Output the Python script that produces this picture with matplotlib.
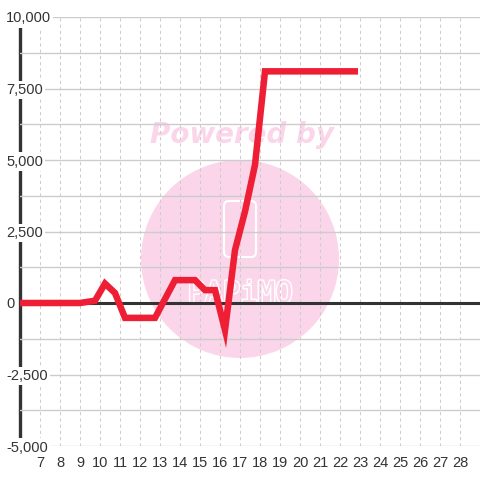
import matplotlib
matplotlib.use("Agg")
import matplotlib.pyplot as plt
from matplotlib.patches import Circle, FancyBboxPatch
import matplotlib.patheffects as pe

# data
x_vals = [6.0, 9.0, 9.75, 10.25, 10.75, 11.25, 12.75, 13.75, 14.75, 15.25, 15.75,
          16.25, 16.75, 17.25, 17.75, 18.25, 22.9]
y_vals = [0, 0, 80, 680, 350, -520, -520, 800, 800, 450, 450,
          -950, 1850, 3200, 4830, 8100, 8100]
x_ticks = list(range(7, 29))
y_ticks = [-5000, -2500, 0, 2500, 5000, 7500, 10000]
y_tick_labels = ["-5,000", "-2,500", "0", "2,500", "5,000", "7,500", "10,000"]
y_minor = [-3750, -1250, 1250, 3750, 6250, 8750]

plt.rcParams['font.family'] = ['Liberation Sans', 'DejaVu Sans']

fig = plt.figure(figsize=(4.8, 4.8), dpi=100)
fig.patch.set_facecolor('white')
ax = fig.add_axes([20/480, 1-446/480, 460/480, (446-17)/480])
ax.set_facecolor('white')
ax.set_xlim(6, 29)
ax.set_ylim(-5000, 10000)
ax.set_axisbelow(True)

for s in ax.spines.values():
    s.set_visible(False)

# watermark
pink = '#fbd6ea'
ax.add_patch(Circle((2.40, 4.8-2.59), 0.99, transform=fig.dpi_scale_trans,
                    facecolor=pink, edgecolor='none', zorder=0.1, clip_on=False))
ax.text(242/480, 1-135/480, "Powered by", color=pink, fontsize=20,
        fontweight='bold', fontstyle='oblique', family='DejaVu Sans',
        ha='center', va='center', zorder=0.1, transform=fig.transFigure)
ax.add_patch(FancyBboxPatch((2.24, 4.8-2.57), 0.32, 0.56,
                            boxstyle="round,pad=0.0,rounding_size=0.05",
                            transform=fig.dpi_scale_trans, facecolor='none',
                            edgecolor='white', linewidth=1.5, zorder=0.15))
t = ax.text(240/480, 1-294/480, "PAPiMO", color=pink, fontsize=21,
            family='DejaVu Sans Mono', ha='center', va='center', zorder=0.15,
            transform=fig.transFigure)
t.set_path_effects([pe.withStroke(linewidth=2, foreground='white')])

# grid
ax.set_yticks(y_ticks)
ax.set_yticks(y_minor, minor=True)
ax.set_yticklabels(y_tick_labels)
ax.set_xticks(x_ticks)
ax.set_xticklabels([str(v) for v in x_ticks])
ax.grid(axis='y', which='both', color='#cccccc', linewidth=1.0)
ax.grid(axis='x', which='major', color='#cccccc', linewidth=0.75,
        linestyle=(0, (3, 3)))
ax.tick_params(axis='both', which='both', length=0, colors='#333333',
               labelsize=10.5)
ax.tick_params(axis='x', pad=7)
ax.tick_params(axis='y', pad=10)
for lab in ax.get_yticklabels():
    lab.set_horizontalalignment('left')
    lab.set_bbox(dict(facecolor='white', edgecolor='none', pad=1.5))

# left axis line and zero line
ax.axvline(6, color='#333333', linewidth=2.4, zorder=0.3, clip_on=False)
ax.axhline(0, color='#333333', linewidth=2.2, zorder=1.5)

ax.plot(x_vals, y_vals, color='#ee1f35', linewidth=4.7, zorder=3,
        solid_joinstyle='miter', solid_capstyle='butt')

fig.savefig('out.png', dpi=100)
